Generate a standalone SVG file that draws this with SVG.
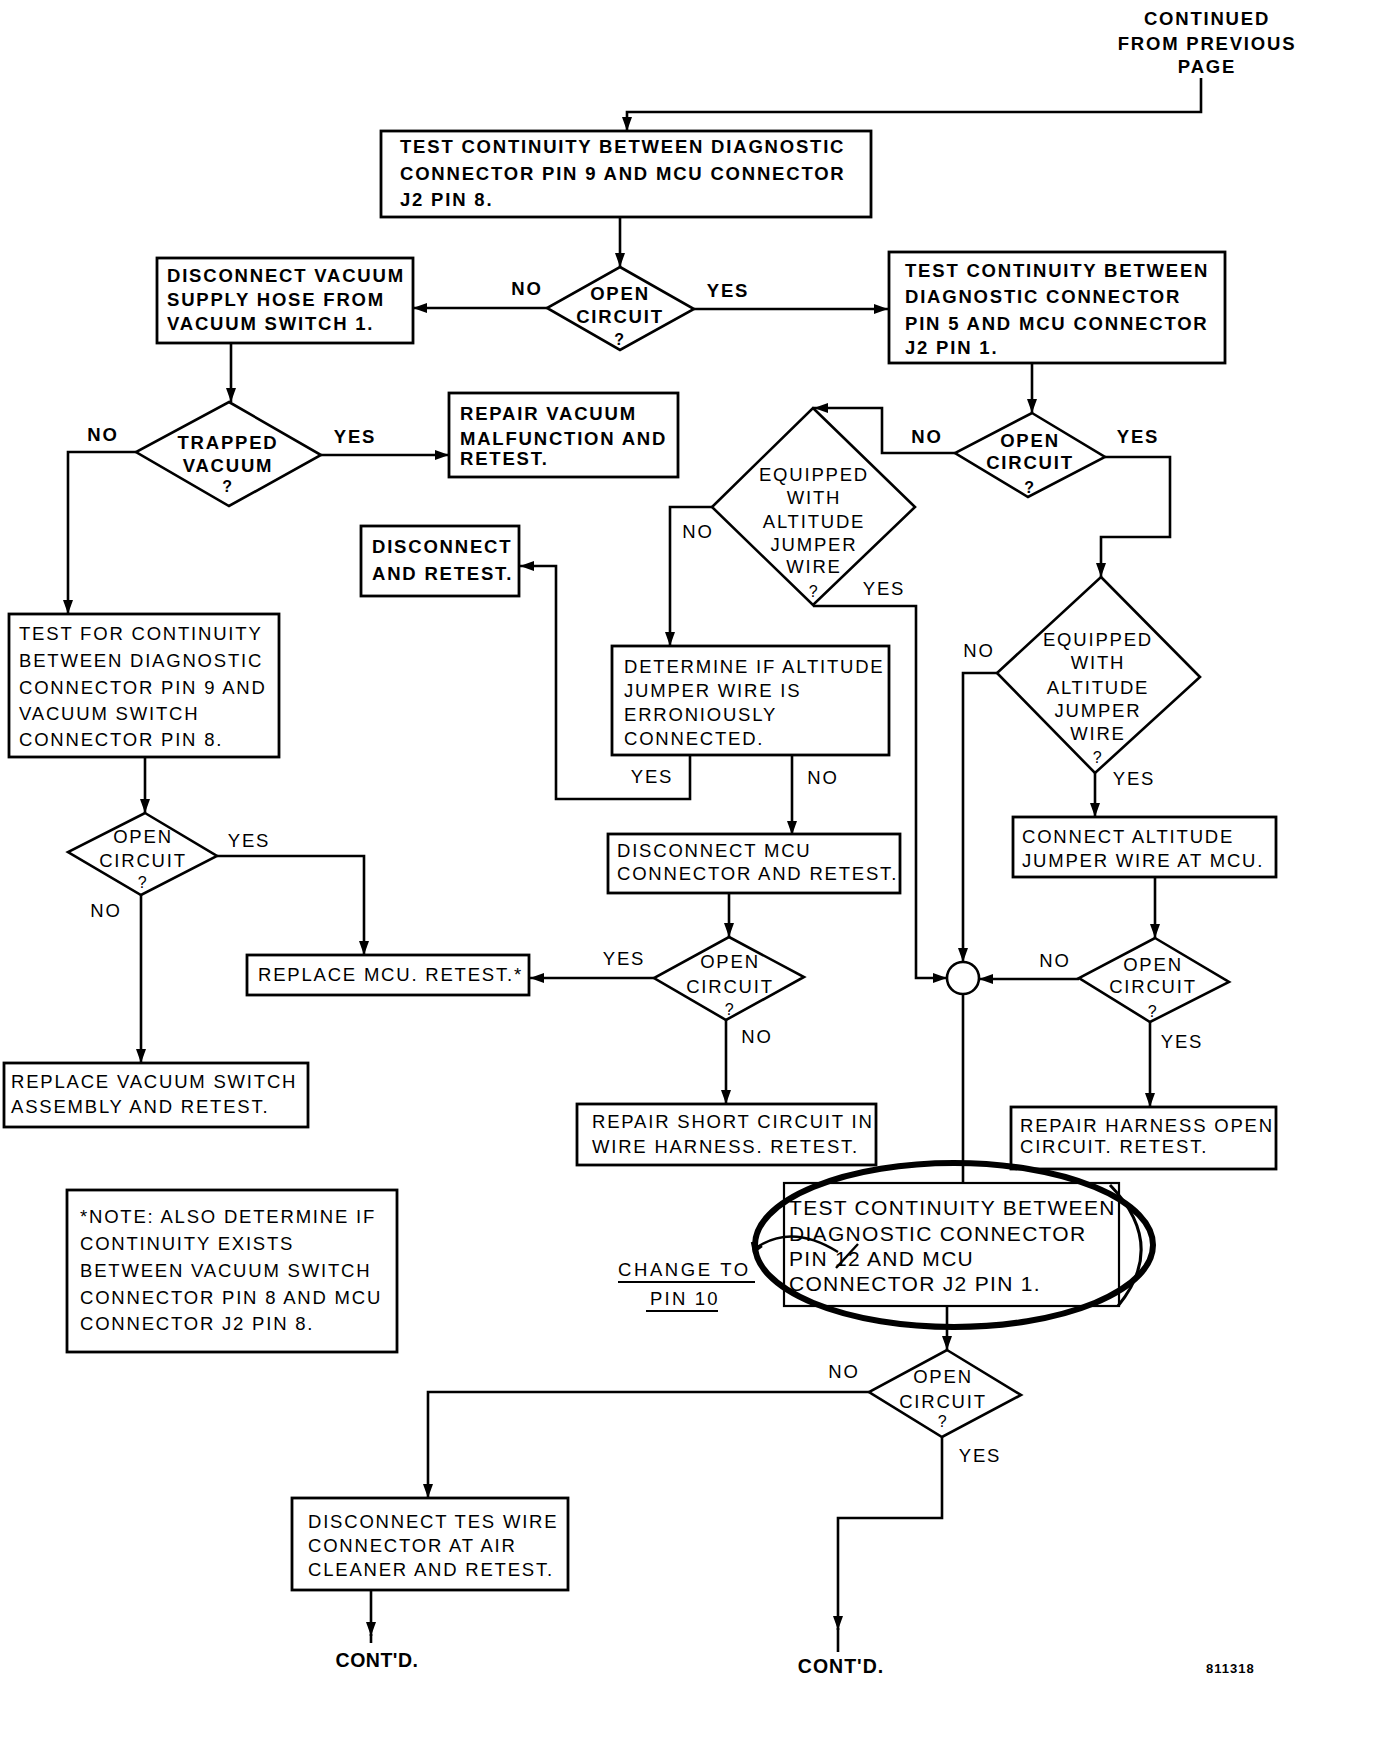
<svg xmlns="http://www.w3.org/2000/svg" width="1392" height="1760" viewBox="0 0 1392 1760">
<style>
text{font-family:"Liberation Sans",Arial,sans-serif;font-size:18.5px;letter-spacing:1.8px;fill:#000}
.b{font-weight:bold}
.c{text-anchor:middle}
.q{font-size:16px}
.box{fill:#fff;stroke:#000;stroke-width:2.8}
.dia{fill:#fff;stroke:#000;stroke-width:2.6}
.ln{fill:none;stroke:#000;stroke-width:2.6}
.big{font-size:21px;letter-spacing:1.3px}
</style>
<defs>
<marker id="arr" viewBox="0 0 14 10" refX="14" refY="5" markerWidth="14" markerHeight="10" markerUnits="userSpaceOnUse" orient="auto">
<path d="M0,0 L14,5 L0,10 z" fill="#000"/>
</marker>
</defs>
<rect width="1392" height="1760" fill="#fff"/>

<g id="connectors">
<path class="ln" d="M1201,78 V112 H627 V131" marker-end="url(#arr)"/>
<path class="ln" d="M620,217 V267" marker-end="url(#arr)"/>
<path class="ln" d="M547,308 H413" marker-end="url(#arr)"/>
<path class="ln" d="M694,309 H888" marker-end="url(#arr)"/>
<path class="ln" d="M231,343 V402" marker-end="url(#arr)"/>
<path class="ln" d="M321,455 H449" marker-end="url(#arr)"/>
<path class="ln" d="M136,452 H68 V614" marker-end="url(#arr)"/>
<path class="ln" d="M1032,363 V413" marker-end="url(#arr)"/>
<path class="ln" d="M955,453 H882 V408 H814" marker-end="url(#arr)"/>
<path class="ln" d="M1105,457 H1170 V537 H1101 V577" marker-end="url(#arr)"/>
<path class="ln" d="M712,507 H670 V646" marker-end="url(#arr)"/>
<path class="ln" d="M813,606 H916 V978 H947" marker-end="url(#arr)"/>
<path class="ln" d="M690,755 V799 H556 V566 H520" marker-end="url(#arr)"/>
<path class="ln" d="M792,755 V835" marker-end="url(#arr)"/>
<path class="ln" d="M729,893 V937" marker-end="url(#arr)"/>
<path class="ln" d="M654,978 H530" marker-end="url(#arr)"/>
<path class="ln" d="M726,1020 V1104" marker-end="url(#arr)"/>
<path class="ln" d="M997,673 H963 V962" marker-end="url(#arr)"/>
<path class="ln" d="M1095,773 V817" marker-end="url(#arr)"/>
<path class="ln" d="M1155,877 V938" marker-end="url(#arr)"/>
<path class="ln" d="M1079,979 H979" marker-end="url(#arr)"/>
<path class="ln" d="M1150,1022 V1107" marker-end="url(#arr)"/>
<path class="ln" d="M963,994 V1183"/>
<path class="ln" d="M145,757 V813" marker-end="url(#arr)"/>
<path class="ln" d="M217,856 H364 V955" marker-end="url(#arr)"/>
<path class="ln" d="M141,895 V1063" marker-end="url(#arr)"/>
<path class="ln" d="M947,1306 V1350" marker-end="url(#arr)"/>
<path class="ln" d="M869,1392 H428 V1498" marker-end="url(#arr)"/>
<path class="ln" d="M942,1437 V1518 H838 V1630" marker-end="url(#arr)"/>
<path class="ln" d="M838,1628 V1652"/>
<path class="ln" d="M371,1590 V1636" marker-end="url(#arr)"/>
<path class="ln" d="M371,1634 V1643"/>
</g>

<g id="continued">
<text class="b c" x="1207" y="25">CONTINUED</text>
<text class="b c" x="1207" y="50">FROM PREVIOUS</text>
<text class="b c" x="1207" y="73">PAGE</text>
</g>

<g id="test-pin9">
<rect class="box" x="381" y="131" width="490" height="86"/>
<text class="b" x="400" y="153">TEST CONTINUITY BETWEEN DIAGNOSTIC</text>
<text class="b" x="400" y="180">CONNECTOR PIN 9 AND MCU CONNECTOR</text>
<text class="b" x="400" y="206">J2 PIN 8.</text>
</g>

<g id="open1">
<polygon class="dia" points="620,267 694,309 620,350 547,308"/>
<text class="b c" x="620" y="300">OPEN</text>
<text class="b c" x="620" y="323">CIRCUIT</text>
<text class="b c q" x="620" y="345">?</text>
<text class="b c" x="527" y="295">NO</text>
<text class="b c" x="728" y="297">YES</text>
</g>

<g id="disc-vacuum">
<rect class="box" x="157" y="258" width="256" height="85"/>
<text class="b" x="167" y="282">DISCONNECT VACUUM</text>
<text class="b" x="167" y="306">SUPPLY HOSE FROM</text>
<text class="b" x="167" y="330">VACUUM SWITCH 1.</text>
</g>

<g id="test-pin5">
<rect class="box" x="889" y="252" width="336" height="111"/>
<text class="b" x="905" y="277">TEST CONTINUITY BETWEEN</text>
<text class="b" x="905" y="303">DIAGNOSTIC CONNECTOR</text>
<text class="b" x="905" y="330">PIN 5 AND MCU CONNECTOR</text>
<text class="b" x="905" y="354">J2 PIN 1.</text>
</g>

<g id="trapped">
<polygon class="dia" points="229,402 321,455 229,506 136,452"/>
<text class="b c" x="228" y="449">TRAPPED</text>
<text class="b c" x="228" y="472">VACUUM</text>
<text class="b c q" x="228" y="492">?</text>
<text class="b c" x="103" y="441">NO</text>
<text class="b c" x="355" y="443">YES</text>
</g>

<g id="repair-vacuum">
<rect class="box" x="449" y="393" width="229" height="84"/>
<text class="b" x="460" y="420">REPAIR VACUUM</text>
<text class="b" x="460" y="445">MALFUNCTION AND</text>
<text class="b" x="460" y="465">RETEST.</text>
</g>

<g id="open2">
<polygon class="dia" points="1032,413 1105,457 1028,497 955,453"/>
<text class="b c" x="1030" y="447">OPEN</text>
<text class="b c" x="1030" y="469">CIRCUIT</text>
<text class="b c q" x="1030" y="493">?</text>
<text class="b c" x="927" y="443">NO</text>
<text class="b c" x="1138" y="443">YES</text>
</g>

<g id="equipped1">
<polygon class="dia" points="813,408 915,507 813,605 712,507"/>
<text class="c" x="814" y="481">EQUIPPED</text>
<text class="c" x="814" y="504">WITH</text>
<text class="c" x="814" y="528">ALTITUDE</text>
<text class="c" x="814" y="551">JUMPER</text>
<text class="c" x="814" y="573">WIRE</text>
<text class="c q" x="814" y="597">?</text>
<text class="c" x="698" y="538">NO</text>
<text class="c" x="884" y="595">YES</text>
</g>

<g id="disc-retest">
<rect class="box" x="361" y="526" width="158" height="70"/>
<text class="b" x="372" y="553">DISCONNECT</text>
<text class="b" x="372" y="580">AND RETEST.</text>
</g>

<g id="determine">
<rect class="box" x="612" y="646" width="277" height="109"/>
<text x="624" y="673">DETERMINE IF ALTITUDE</text>
<text x="624" y="697">JUMPER WIRE IS</text>
<text x="624" y="721">ERRONIOUSLY</text>
<text x="624" y="745">CONNECTED.</text>
<text class="c" x="652" y="783">YES</text>
<text class="c" x="823" y="784">NO</text>
</g>

<g id="equipped2">
<polygon class="dia" points="1101,577 1200,677 1095,773 997,673"/>
<text class="c" x="1098" y="646">EQUIPPED</text>
<text class="c" x="1098" y="669">WITH</text>
<text class="c" x="1098" y="694">ALTITUDE</text>
<text class="c" x="1098" y="717">JUMPER</text>
<text class="c" x="1098" y="740">WIRE</text>
<text class="c q" x="1098" y="763">?</text>
<text class="c" x="979" y="657">NO</text>
<text class="c" x="1134" y="785">YES</text>
</g>

<g id="connect-altitude">
<rect class="box" x="1013" y="817" width="263" height="60"/>
<text x="1022" y="843">CONNECT ALTITUDE</text>
<text x="1022" y="867">JUMPER WIRE AT MCU.</text>
</g>

<g id="test-for-continuity">
<rect class="box" x="9" y="614" width="270" height="143"/>
<text x="19" y="640">TEST FOR CONTINUITY</text>
<text x="19" y="667">BETWEEN DIAGNOSTIC</text>
<text x="19" y="694">CONNECTOR PIN 9 AND</text>
<text x="19" y="720">VACUUM SWITCH</text>
<text x="19" y="746">CONNECTOR PIN 8.</text>
</g>

<g id="open-left">
<polygon class="dia" points="145,813 217,856 141,895 68,852"/>
<text class="c" x="143" y="843">OPEN</text>
<text class="c" x="143" y="867">CIRCUIT</text>
<text class="c q" x="143" y="888">?</text>
<text class="c" x="249" y="847">YES</text>
<text class="c" x="106" y="917">NO</text>
</g>

<g id="disc-mcu">
<rect class="box" x="608" y="834" width="292" height="59"/>
<text x="617" y="857">DISCONNECT MCU</text>
<text x="617" y="880">CONNECTOR AND RETEST.</text>
</g>

<g id="open-mid">
<polygon class="dia" points="729,937 804,977 726,1020 654,978"/>
<text class="c" x="730" y="968">OPEN</text>
<text class="c" x="730" y="993">CIRCUIT</text>
<text class="c q" x="730" y="1015">?</text>
<text class="c" x="624" y="965">YES</text>
<text class="c" x="757" y="1043">NO</text>
</g>

<g id="replace-mcu">
<rect class="box" x="247" y="955" width="282" height="40"/>
<text x="258" y="981">REPLACE MCU. RETEST.*</text>
</g>

<g id="junction">
<circle cx="963" cy="978" r="16" fill="#fff" stroke="#000" stroke-width="2.6"/>
</g>

<g id="open-right">
<polygon class="dia" points="1155,938 1229,982 1150,1022 1079,978"/>
<text class="c" x="1153" y="971">OPEN</text>
<text class="c" x="1153" y="993">CIRCUIT</text>
<text class="c q" x="1153" y="1017">?</text>
<text class="c" x="1055" y="967">NO</text>
<text class="c" x="1182" y="1048">YES</text>
</g>

<g id="replace-switch">
<rect class="box" x="4" y="1063" width="304" height="64"/>
<text x="11" y="1088">REPLACE VACUUM SWITCH</text>
<text x="11" y="1113">ASSEMBLY AND RETEST.</text>
</g>

<g id="repair-short">
<rect class="box" x="577" y="1104" width="299" height="61"/>
<text x="592" y="1128">REPAIR SHORT CIRCUIT IN</text>
<text x="592" y="1153">WIRE HARNESS. RETEST.</text>
</g>

<g id="repair-harness">
<rect class="box" x="1011" y="1107" width="265" height="62"/>
<text x="1020" y="1132">REPAIR HARNESS OPEN</text>
<text x="1020" y="1153">CIRCUIT. RETEST.</text>
</g>

<g id="note">
<rect class="box" x="67" y="1190" width="330" height="162"/>
<text x="80" y="1223">*NOTE: ALSO DETERMINE IF</text>
<text x="80" y="1250">CONTINUITY EXISTS</text>
<text x="80" y="1277">BETWEEN VACUUM SWITCH</text>
<text x="80" y="1304">CONNECTOR PIN 8 AND MCU</text>
<text x="80" y="1330">CONNECTOR J2 PIN 8.</text>
</g>

<g id="change-to">
<text x="618" y="1276" style="letter-spacing:2.6px">CHANGE TO</text>
<text x="650" y="1305" style="letter-spacing:2.2px">PIN 10</text>
<line x1="618" y1="1282" x2="755" y2="1282" stroke="#000" stroke-width="2"/>
<line x1="646" y1="1311" x2="718" y2="1311" stroke="#000" stroke-width="2"/>
</g>

<g id="test-pin12">
<rect fill="#fff" stroke="#000" stroke-width="2.2" x="784" y="1183" width="335" height="123"/>
<text class="big" x="789" y="1215">TEST CONTINUITY BETWEEN</text>
<text class="big" x="789" y="1241">DIAGNOSTIC CONNECTOR</text>
<text class="big" x="789" y="1266">PIN 12 AND MCU</text>
<text class="big" x="789" y="1291">CONNECTOR J2 PIN 1.</text>
<line x1="836" y1="1268" x2="858" y2="1244" stroke="#000" stroke-width="2.4"/>
<ellipse cx="954" cy="1245" rx="199" ry="82" fill="none" stroke="#000" stroke-width="6"/>
<path d="M1110,1185 Q1168,1245 1118,1306" fill="none" stroke="#000" stroke-width="3"/>
<path d="M753,1250 Q790,1222 838,1252" fill="none" stroke="#000" stroke-width="2.4"/>
<path d="M752,1242 L754,1252 L762,1246" fill="none" stroke="#000" stroke-width="2.4"/>
</g>

<g id="open-bottom">
<polygon class="dia" points="947,1350 1021,1395 942,1437 869,1392"/>
<text class="c" x="943" y="1383">OPEN</text>
<text class="c" x="943" y="1408">CIRCUIT</text>
<text class="c q" x="943" y="1427">?</text>
<text class="c" x="844" y="1378">NO</text>
<text class="c" x="980" y="1462">YES</text>
</g>

<g id="disc-tes">
<rect class="box" x="292" y="1498" width="276" height="92"/>
<text x="308" y="1528">DISCONNECT TES WIRE</text>
<text x="308" y="1552">CONNECTOR AT AIR</text>
<text x="308" y="1576">CLEANER AND RETEST.</text>
</g>

<g id="contd-left">
<text class="b c" x="377" y="1667" style="font-size:19.5px;letter-spacing:0.5px">CONT'D.</text>
</g>
<g id="contd-right">
<text class="b c" x="841" y="1673" style="font-size:19.5px;letter-spacing:1px">CONT'D.</text>
</g>
<g id="figno">
<text class="b" x="1206" y="1673" style="font-size:13px;letter-spacing:1px">811318</text>
</g>
</svg>
